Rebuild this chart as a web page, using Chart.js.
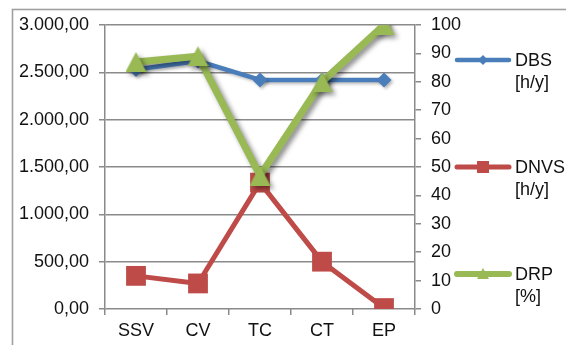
<!DOCTYPE html>
<html>
<head>
<meta charset="utf-8">
<script src="https://cdn.jsdelivr.net/npm/chart.js@4/dist/chart.umd.min.js"></script>
<style>
html,body{margin:0;padding:0;background:#fff;}
#wrap{width:566px;height:345px;position:relative;}
</style>
</head>
<body>
<div id="wrap"><canvas id="c" width="566" height="345"></canvas></div>
<script>
const categories = ['SSV', 'CV', 'TC', 'CT', 'EP'];
const dbsValues = [2530, 2620, 2420, 2420, 2420];
const dnvsValues = [350, 270, 1335, 500, 10];
const drpValues = [87, 89, 47, 80, 100];
const seriesNames = ['DBS', 'DNVS', 'DRP'];
const seriesUnits = ['[h/y]', '[h/y]', '[%]'];

const BLUE = '#4a7ebb', RED = '#be4b48', GREEN = '#98b954';

function triangleCanvas(w, h, color) {
  const c = document.createElement('canvas');
  c.width = w; c.height = h;
  const g = c.getContext('2d');
  g.fillStyle = color;
  g.beginPath();
  g.moveTo(w / 2, 0);
  g.lineTo(w, h);
  g.lineTo(0, h);
  g.closePath();
  g.fill();
  return c;
}
const triBig = triangleCanvas(21, 20, GREEN);

function fmtDE(v) {
  const s = Math.round(v).toString().replace(/\B(?=(\d{3})+(?!\d))/g, '.');
  return s + ',00';
}

const framePlugin = {
  id: 'frame',
  beforeDraw(chart) {
    const ctx = chart.ctx;
    ctx.save();
    ctx.fillStyle = '#fff';
    ctx.fillRect(0, 0, chart.width, chart.height);
    ctx.strokeStyle = '#a0a0a0';
    ctx.lineWidth = 1.6;
    ctx.strokeRect(12.5, 9.5, 800, 800);
    ctx.restore();
  }
};

const shadowPlugin = {
  id: 'shadow',
  beforeDatasetDraw(chart, args) {
    const ctx = chart.ctx;
    ctx.save();
    if (args.index === 2) {
      ctx.shadowColor = 'rgba(0,0,0,0.45)';
      ctx.shadowBlur = 5;
      ctx.shadowOffsetX = 3;
      ctx.shadowOffsetY = 3;
    } else if (args.index === 0) {
      ctx.shadowColor = 'rgba(0,0,0,0.25)';
      ctx.shadowBlur = 3;
      ctx.shadowOffsetX = 2;
      ctx.shadowOffsetY = 2;
    }
  },
  afterDatasetDraw(chart) {
    chart.ctx.restore();
  }
};

const legendPlugin = {
  id: 'customLegend',
  afterDraw(chart) {
    const ctx = chart.ctx;
    const ys = [60, 167, 274];
    const colors = [BLUE, RED, GREEN];
    const widths = [4.5, 5, 6];
    ctx.save();
    for (let i = 0; i < 3; i++) {
      const y = ys[i];
      ctx.strokeStyle = colors[i];
      ctx.lineWidth = widths[i];
      ctx.lineCap = 'round';
      ctx.beginPath();
      ctx.moveTo(457, y);
      ctx.lineTo(509, y);
      ctx.stroke();
      ctx.fillStyle = colors[i];
      const cx = 483;
      ctx.beginPath();
      if (i === 0) {
        ctx.moveTo(cx, y - 5); ctx.lineTo(cx + 5, y); ctx.lineTo(cx, y + 5); ctx.lineTo(cx - 5, y);
      } else if (i === 1) {
        ctx.rect(cx - 6, y - 6, 12, 12);
      } else {
        ctx.moveTo(cx, y - 6); ctx.lineTo(cx + 6, y + 5); ctx.lineTo(cx - 6, y + 5);
      }
      ctx.closePath();
      ctx.fill();
      ctx.fillStyle = '#111';
      ctx.font = '18px "Liberation Sans", Arial, sans-serif';
      ctx.textBaseline = 'middle';
      ctx.textAlign = 'left';
      ctx.fillText(seriesNames[i], 515, y + 1);
      ctx.fillText(seriesUnits[i], 515, y + 23);
    }
    ctx.restore();
  }
};

const tickFont = { family: '"Liberation Sans", Arial, sans-serif', size: 18 };

new Chart(document.getElementById('c'), {
  type: 'line',
  data: {
    labels: categories,
    datasets: [
      {
        label: seriesNames[0] + ' ' + seriesUnits[0],
        data: dbsValues,
        yAxisID: 'y',
        borderColor: BLUE,
        backgroundColor: BLUE,
        borderWidth: 4.5,
        pointStyle: 'rectRot',
        pointRadius: 7.5,
        pointBorderWidth: 0,
        pointBackgroundColor: BLUE,
        tension: 0,
        order: 3
      },
      {
        label: seriesNames[1] + ' ' + seriesUnits[1],
        data: dnvsValues,
        yAxisID: 'y',
        borderColor: RED,
        backgroundColor: RED,
        borderWidth: 5,
        pointStyle: 'rect',
        pointRadius: 14,
        pointBorderWidth: 0,
        pointBackgroundColor: RED,
        tension: 0,
        order: 2
      },
      {
        label: seriesNames[2] + ' ' + seriesUnits[2],
        data: drpValues,
        yAxisID: 'y1',
        borderColor: GREEN,
        backgroundColor: GREEN,
        borderWidth: 7,
        pointStyle: triBig,
        pointRadius: 10,
        pointBorderWidth: 0,
        tension: 0,
        order: 1
      }
    ]
  },
  options: {
    responsive: false,
    animation: false,
    devicePixelRatio: 1,
    layout: { padding: { left: 0, right: 0, top: 25, bottom: 0 } },
    plugins: {
      legend: { display: false },
      tooltip: { enabled: false }
    },
    elements: { line: { borderJoinStyle: 'round', borderCapStyle: 'round' } },
    scales: {
      x: {
        offset: true,
        grid: {
          offset: true,
          drawOnChartArea: false,
          drawTicks: true,
          tickLength: 6,
          color: '#8a8a8a',
          lineWidth: 1.5
        },
        border: { display: false },
        ticks: { color: '#111', font: tickFont, padding: 5, maxRotation: 0 },
        afterFit(s) { s.height = 36; }
      },
      y: {
        position: 'left',
        min: 0,
        max: 3000,
        ticks: { stepSize: 500, color: '#111', font: tickFont, padding: 10, callback: v => fmtDE(v) },
        grid: { color: '#8a8a8a', lineWidth: 1.5, tickLength: 6 },
        border: { display: true, color: '#8a8a8a', width: 1.5 },
        afterFit(s) { s.width = 105; }
      },
      y1: {
        position: 'right',
        min: 0,
        max: 100,
        ticks: { stepSize: 10, color: '#111', font: tickFont, padding: 10 },
        grid: { drawOnChartArea: false, color: '#8a8a8a', lineWidth: 1.5, tickLength: 6 },
        border: { display: true, color: '#8a8a8a', width: 1.5 },
        afterFit(s) { s.width = 151; }
      }
    }
  },
  plugins: [framePlugin, shadowPlugin, legendPlugin]
});
</script>
</body>
</html>
